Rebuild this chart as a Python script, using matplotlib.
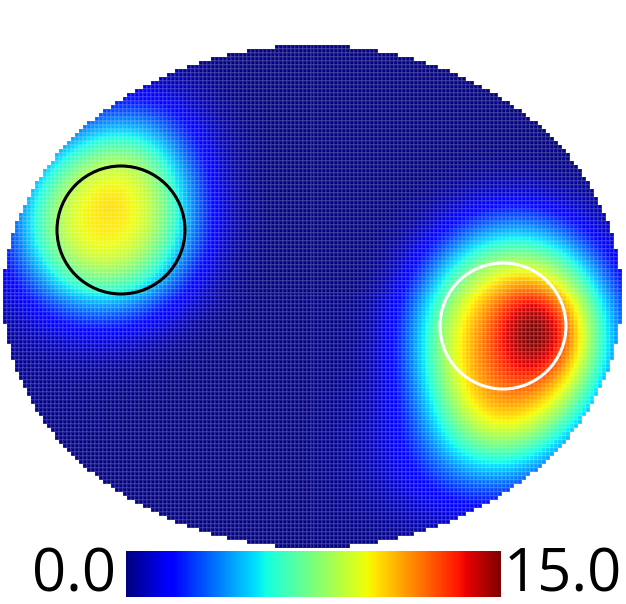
import numpy as np
import matplotlib
matplotlib.use("Agg")
import matplotlib.pyplot as plt
from matplotlib.patches import Circle

# ---- data (pixel-space field description) ----
# domain: elliptical region
ell_cx, ell_cy = 312.5, 296.5
ell_a, ell_b = 309.5, 251.5
n_cols, n_rows = 155, 126

# intensity sources: centre x, centre y, amplitude, width x, width y, shape exponent
src_x = [106, 145, 516, 478, 536, 50]
src_y = [220, 140, 338, 448, 332, 290]
src_amp = [9.6, 1.8, 11.0, 3.2, 4.0, 0.4]
src_sx = [88, 65, 100, 85, 42, 80]
src_sy = [90, 60, 112, 70, 48, 110]
src_pow = [2.6, 2.0, 3.0, 2.0, 2.0, 2.0]
base_level = 0.0

vmin, vmax = 0.0, 15.0
cbar_labels = ["0.0", "15.0"]

# ROI circles: centre x, centre y, radius, colour
roi_x = [121, 503]
roi_y = [230, 326]
roi_r = [64, 63]
roi_col = ["black", "white"]

# ---- build field ----
xe = np.linspace(ell_cx - ell_a, ell_cx + ell_a, n_cols + 1)
ye = np.linspace(ell_cy - ell_b, ell_cy + ell_b, n_rows + 1)
xc = 0.5 * (xe[:-1] + xe[1:])
yc = 0.5 * (ye[:-1] + ye[1:])
X, Y = np.meshgrid(xc, yc)
Z = np.full_like(X, base_level)
for x0, y0, a, sx, sy, p in zip(src_x, src_y, src_amp, src_sx, src_sy, src_pow):
    d = np.sqrt(((X - x0) / sx) ** 2 + ((Y - y0) / sy) ** 2)
    Z += a * np.exp(-d ** p)
inside = ((X - ell_cx) / ell_a) ** 2 + ((Y - ell_cy) / ell_b) ** 2 <= 1.0
Zm = np.ma.masked_where(~inside, Z)

W, H = 626, 604
fig = plt.figure(figsize=(W / 100, H / 100), dpi=100)
x0p, x1p, y0p, y1p = 3, 622, 45, 548
ax = fig.add_axes([x0p / W, 1 - y1p / H, (x1p - x0p) / W, (y1p - y0p) / H])
mesh = ax.pcolormesh(xe, ye, Zm, cmap="jet", vmin=vmin, vmax=vmax,
                     edgecolors=(1, 1, 1, 0.10), linewidth=0.25)
for cx, cy, r, c in zip(roi_x, roi_y, roi_r, roi_col):
    ax.add_patch(Circle((cx, cy), r, fill=False, edgecolor=c, linewidth=2.2))
ax.set_xlim(x0p, x1p)
ax.set_ylim(y1p, y0p)
ax.axis("off")

cax = fig.add_axes([126 / W, 1 - 597 / H, (501 - 126) / W, (597 - 551) / H])
cb = fig.colorbar(mesh, cax=cax, orientation="horizontal")
cb.set_ticks([])
cb.outline.set_visible(False)
fig.text(116 / W, 1 - 575 / H, cbar_labels[0], ha="right", va="center",
         fontsize=43, family="Open Sans")
fig.text(622 / W, 1 - 575 / H, cbar_labels[1], ha="right", va="center",
         fontsize=43, family="Open Sans")

fig.savefig("out.png", dpi=100)
